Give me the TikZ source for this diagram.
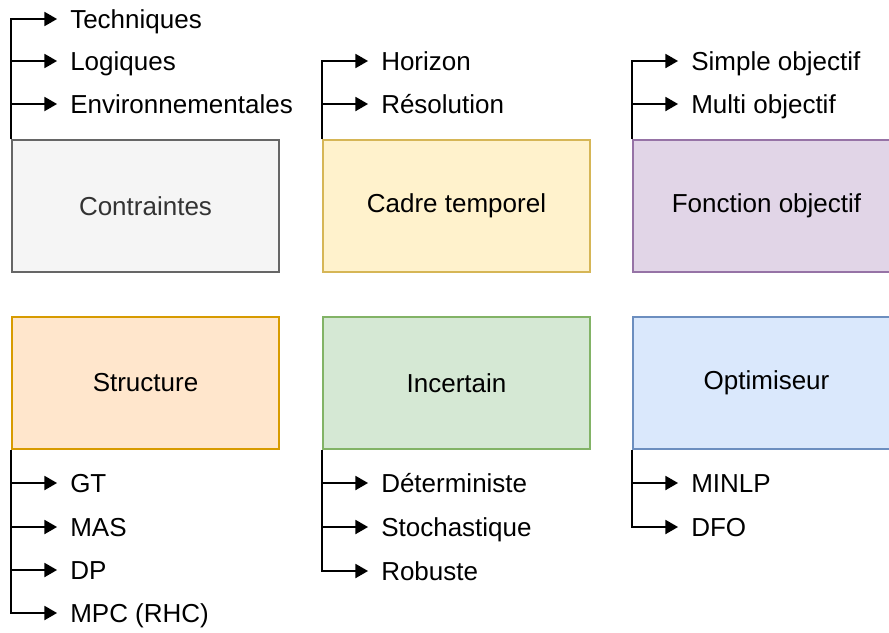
\documentclass[tikz,border=0pt]{standalone}
\usepackage{fontspec}
\setmainfont{Liberation Sans}
\usetikzlibrary{arrows}

\definecolor{greyfill}{HTML}{F5F5F5}
\definecolor{greyline}{HTML}{666666}
\definecolor{greytext}{HTML}{333333}
\definecolor{yellowfill}{HTML}{FFF2CC}
\definecolor{yellowline}{HTML}{D6B656}
\definecolor{purplefill}{HTML}{E1D5E7}
\definecolor{purpleline}{HTML}{9673A6}
\definecolor{orangefill}{HTML}{FFE6CC}
\definecolor{orangeline}{HTML}{D79B00}
\definecolor{greenfill}{HTML}{D5E8D4}
\definecolor{greenline}{HTML}{82B366}
\definecolor{bluefill}{HTML}{DAE8FC}
\definecolor{blueline}{HTML}{6C8EBF}

\tikzset{
  box/.style={draw, line width=1.5pt, minimum width=200.25pt, minimum height=99pt,
    font=\fontsize{19.5}{23}\selectfont},
  item/.style={anchor=west, inner xsep=9.75pt, inner ysep=0pt, text height=14pt,
    text depth=0pt, font=\fontsize{19.5}{23}\selectfont},
  branch/.style={line width=1.6pt, -triangle 60}
}

\begin{document}
\begin{tikzpicture}[x=0.75pt,y=-0.75pt]
\useasboundingbox (0,0) rectangle (889,632);
\clip (0,0) rectangle (889,632);

% top row
\node[box, fill=greyfill, draw=greyline, text=greytext] (cont) at (145.5,206) {Contraintes};
\node[box, fill=yellowfill, draw=yellowline] (cadre) at (456.5,206) {Cadre temporel};
\node[box, fill=purplefill, draw=purpleline] (fonc) at (766.5,206) {Fonction objectif};

% bottom row
\node[box, fill=orangefill, draw=orangeline] (struct) at (145.5,383) {Structure};
\node[box, fill=greenfill, draw=greenline] (incert) at (456.5,383) {Incertain};
\node[box, fill=bluefill, draw=blueline] (optim) at (766.5,383) {Optimiseur};

% items of the top boxes
\node[item] (tech) at (57,19) {Techniques};
\node[item] (logi) at (57,61) {Logiques};
\node[item] (envi) at (57,104) {Environnementales};
\node[item] (hori) at (368,61) {Horizon};
\node[item] (reso) at (368,104) {Résolution};
\node[item] (simp) at (678,61) {Simple objectif};
\node[item] (mult) at (678,104) {Multi objectif};

% items of the bottom boxes
\node[item] (gt) at (57,483) {GT};
\node[item] (mas) at (57,527) {MAS};
\node[item] (dp) at (57,570) {DP};
\node[item] (mpc) at (57,613) {MPC (RHC)};
\node[item] (dete) at (368,483) {Déterministe};
\node[item] (stoc) at (368,527) {Stochastique};
\node[item] (robu) at (368,571) {Robuste};
\node[item] (minlp) at (678,483) {MINLP};
\node[item] (dfo) at (678,527) {DFO};

\draw[branch] (cont.north west) |- (tech.west);
\draw[branch] (cont.north west) |- (logi.west);
\draw[branch] (cont.north west) |- (envi.west);
\draw[branch] (cadre.north west) |- (hori.west);
\draw[branch] (cadre.north west) |- (reso.west);
\draw[branch] (fonc.north west) |- (simp.west);
\draw[branch] (fonc.north west) |- (mult.west);

\draw[branch] (struct.south west) |- (gt.west);
\draw[branch] (struct.south west) |- (mas.west);
\draw[branch] (struct.south west) |- (dp.west);
\draw[branch] (struct.south west) |- (mpc.west);
\draw[branch] (incert.south west) |- (dete.west);
\draw[branch] (incert.south west) |- (stoc.west);
\draw[branch] (incert.south west) |- (robu.west);
\draw[branch] (optim.south west) |- (minlp.west);
\draw[branch] (optim.south west) |- (dfo.west);
\end{tikzpicture}
\end{document}
